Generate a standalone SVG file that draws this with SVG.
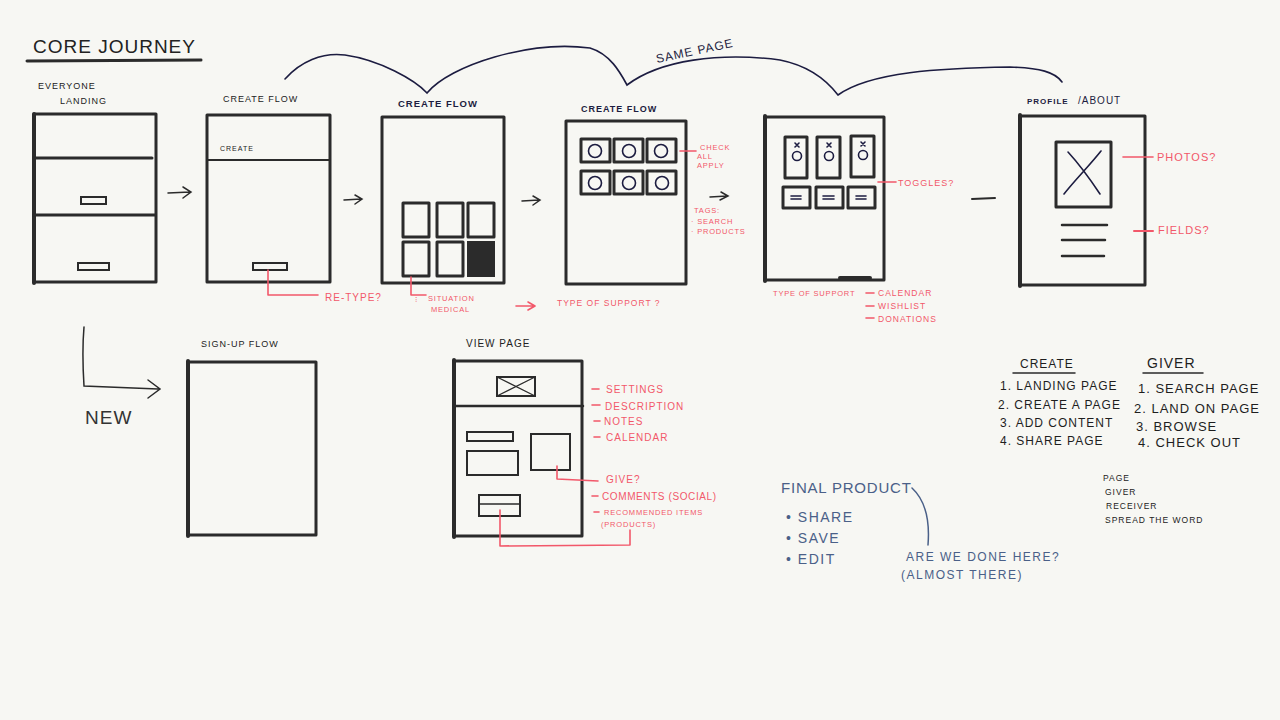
<svg xmlns="http://www.w3.org/2000/svg" width="1280" height="720" viewBox="0 0 1280 720">
<style>
.bg{fill:#f7f7f3}
.fr{fill:none;stroke:#2b2b2b;stroke-width:3;stroke-linejoin:round}
.ln{fill:none;stroke:#2b2b2b;stroke-width:2.5;stroke-linecap:round}
.thin{fill:none;stroke:#2b2b2b;stroke-width:1.5;stroke-linecap:round}
.navy{fill:none;stroke:#1c1c40;stroke-width:1.6;stroke-linecap:round}
.red{fill:none;stroke:#f2586a;stroke-width:1.6;stroke-linecap:round;stroke-linejoin:round}
.blue{fill:none;stroke:#4a6088;stroke-width:1.5;stroke-linecap:round}
text{font-family:"Liberation Sans","DejaVu Sans",sans-serif}
.t{fill:#222;font-size:10px;letter-spacing:1px}
.tn{fill:#1c1c40;font-size:10px;letter-spacing:1px}
.tr{fill:#f2586a;font-size:10px;letter-spacing:1px}
.trs{fill:#f2586a;font-size:7.5px;letter-spacing:0.8px}
.tl{fill:#1e1e1e;font-size:12px;letter-spacing:1px}
.tb{fill:#4a6088;font-size:14px;letter-spacing:1.5px}
</style>
<rect class="bg" x="0" y="0" width="1280" height="720"/>

<g id="title">
<text x="33" y="53" style="font-size:19px;letter-spacing:1px;fill:#222">CORE JOURNEY</text>
<path d="M27 61 L201 60" class="ln" style="stroke-width:3"/>
</g>

<g id="connectors">
<path class="thin" d="M168 193 L190 192 M183 187 L191 192 L183 198"/>
<path class="thin" d="M344 200 L361 199 M355 195 L362 199 L355 204"/>
<path class="thin" d="M522 201 L539 200 M533 196 L540 200 L533 205"/>
<path class="thin" d="M710 197 L727 196 M721 192 L728 196 L720 200"/>
<path class="ln" d="M972 199 L995 198" style="stroke-width:2"/>
<path class="navy" d="M285 79 C300 62 322 52 345 55 C380 60 415 80 427 93 C450 65 530 40 590 48 C610 54 620 72 627 85 C660 60 720 52 780 60 C810 66 828 82 838 95 C870 72 940 68 1010 67 C1040 68 1055 72 1062 82"/>
<text class="tn" x="657" y="63" transform="rotate(-12 657 63)" style="font-size:12px">SAME PAGE</text>
<path class="thin" d="M84 327 C82 350 83 370 84 386 L158 389 M148 380 L160 389 L148 398"/>
<path class="red" d="M516 306 L534 306 M528 302 L535 306 L528 310"/>
</g>

<g id="landing">
<text class="t" x="38" y="89" style="font-size:9px">EVERYONE</text>
<text class="t" x="60" y="104" style="font-size:9px">LANDING</text>
<rect class="fr" x="34" y="114" width="122" height="168"/>
<path class="ln" d="M34 114 L34 283" style="stroke-width:4"/>
<path class="ln" d="M34 158 L152 158" style="stroke-width:3"/>
<path class="ln" d="M34 215 L155 215" style="stroke-width:3"/>
<rect class="thin" x="81" y="197" width="25" height="7" style="stroke-width:2"/>
<rect class="thin" x="78" y="263" width="31" height="7" style="stroke-width:2"/>
</g>

<g id="create1">
<text class="t" x="223" y="102" style="font-size:9px">CREATE FLOW</text>
<rect class="fr" x="207" y="115" width="123" height="167"/>
<path class="ln" d="M207 160 L330 160" style="stroke-width:2"/>
<text class="t" x="220" y="151" style="font-size:7px">CREATE</text>
<rect class="thin" x="253" y="263" width="34" height="7" style="stroke-width:2"/>
<path class="red" d="M268 270 L268 295 L318 295"/>
<text class="tr" x="325" y="301">RE-TYPE?</text>
</g>

<g id="create2">
<text class="tn" x="398" y="107" style="font-size:9.5px;font-weight:bold">CREATE FLOW</text>
<rect class="fr" x="382" y="117" width="122" height="166"/>
<rect class="fr" x="403" y="203" width="26" height="34"/>
<rect class="fr" x="437" y="203" width="26" height="34"/>
<rect class="fr" x="468" y="203" width="26" height="34"/>
<rect class="fr" x="403" y="242" width="26" height="34"/>
<rect class="fr" x="437" y="242" width="26" height="34"/>
<rect x="468" y="242" width="26" height="34" style="fill:#2b2b2b;stroke:#2b2b2b;stroke-width:2"/>
<path class="red" d="M411 277 L411 295 L426 295"/>
<text class="trs" x="415" y="302">⁝</text>
<text class="trs" x="428" y="301">SITUATION</text>
<text class="trs" x="431" y="312">MEDICAL</text>
<text class="tr" x="557" y="306" style="font-size:8.5px">TYPE OF SUPPORT ?</text>
</g>

<g id="create3">
<text class="tn" x="581" y="112" style="font-size:9px;font-weight:bold">CREATE FLOW</text>
<rect class="fr" x="566" y="121" width="120" height="163"/>
<g class="fr">
<rect x="581" y="139" width="29" height="23"/><rect x="614" y="139" width="29" height="23"/><rect x="647" y="139" width="29" height="23"/>
<rect x="581" y="171" width="29" height="23"/><rect x="614" y="171" width="29" height="23"/><rect x="647" y="171" width="29" height="23"/>
</g>
<g class="navy">
<circle cx="595" cy="151" r="6.5"/><circle cx="629" cy="151" r="6.5"/><circle cx="661" cy="151" r="6.5"/>
<circle cx="595" cy="183" r="6.5"/><circle cx="629" cy="183" r="6.5"/><circle cx="662" cy="183" r="6.5"/>
</g>
<path class="red" d="M680 151 L696 151"/>
<text class="trs" x="700" y="150">CHECK</text>
<text class="trs" x="697" y="159">ALL</text>
<text class="trs" x="697" y="168">APPLY</text>
<text class="trs" x="694" y="213">TAGS:</text>
<text class="trs" x="691" y="224">· SEARCH</text>
<text class="trs" x="691" y="234">· PRODUCTS</text>
</g>

<g id="create4">
<rect class="fr" x="765" y="117" width="119" height="163"/>
<path class="ln" d="M765 116 L765 281" style="stroke-width:4"/>
<path class="ln" d="M840 278 L870 278" style="stroke-width:4"/>
<g class="fr">
<rect x="785" y="137" width="22" height="41"/><rect x="817" y="137" width="23" height="41"/><rect x="851" y="136" width="23" height="41"/>
<rect x="783" y="187" width="27" height="21"/><rect x="816" y="187" width="27" height="21"/><rect x="848" y="187" width="27" height="21"/>
</g>
<g class="navy">
<circle cx="797" cy="156" r="4.5"/><circle cx="829" cy="156" r="4.5"/><circle cx="863" cy="155" r="4.5"/>
<path d="M795 143 L799 147 M799 143 L795 147 M827 143 L831 147 M831 143 L827 147 M861 142 L865 146 M865 142 L861 146"/>
<path d="M791 196 L801 196 M791 199 L801 199 M823 196 L834 196 M823 199 L834 199 M856 196 L866 196 M856 199 L866 199"/>
</g>
<path class="red" d="M878 182 L896 182"/>
<text class="tr" x="898" y="186" style="font-size:9px">TOGGLES?</text>
<text class="tr" x="773" y="296" style="font-size:7.5px;letter-spacing:0.8px">TYPE OF SUPPORT</text>
<path class="red" d="M866 293 L874 293 M866 306 L874 306 M866 318 L874 318"/>
<text class="tr" x="878" y="296" style="font-size:8.5px">CALENDAR</text>
<text class="tr" x="878" y="309" style="font-size:8.5px">WISHLIST</text>
<text class="tr" x="878" y="322" style="font-size:8.5px">DONATIONS</text>
</g>

<g id="profile">
<text class="tn" x="1027" y="104" style="font-size:8px;font-weight:bold">PROFILE</text>
<text class="tn" x="1078" y="104" style="font-size:10px">/ABOUT</text>
<rect class="fr" x="1020" y="116" width="125" height="169"/>
<path class="ln" d="M1020 115 L1020 286" style="stroke-width:4"/>
<rect class="fr" x="1056" y="142" width="55" height="65"/>
<path class="navy" d="M1064 194 C1075 180 1090 165 1101 151 M1068 152 C1080 165 1092 182 1100 194"/>
<path class="ln" d="M1062 225 L1107 225 M1062 240 L1105 240 M1062 256 L1104 256"/>
<path class="red" d="M1123 157 L1153 157"/>
<text class="tr" x="1157" y="161" style="font-size:11px">PHOTOS?</text>
<path class="red" d="M1134 231 L1153 231" style="stroke-width:2"/>
<text class="tr" x="1158" y="234" style="font-size:11px">FIELDS?</text>
</g>

<g id="new">
<text x="85" y="424" style="font-size:19px;fill:#333;letter-spacing:1px">NEW</text>
</g>

<g id="signup">
<text class="t" x="201" y="347" style="font-size:9px">SIGN-UP FLOW</text>
<rect class="fr" x="188" y="362" width="128" height="173"/>
<path class="ln" d="M188 361 L188 536" style="stroke-width:4"/>
</g>

<g id="viewpage">
<text class="t" x="466" y="347" style="font-size:10px">VIEW PAGE</text>
<rect class="fr" x="454" y="361" width="128" height="175"/>
<path class="ln" d="M454 360 L454 537" style="stroke-width:4"/>
<path class="ln" d="M454 406 L583 406"/>
<rect class="thin" x="497" y="377" width="38" height="19" style="stroke-width:2"/>
<path class="thin" d="M497 377 L535 396 M535 377 L497 396" style="stroke-width:1.2"/>
<rect class="thin" x="467" y="432" width="46" height="9" style="stroke-width:2"/>
<rect class="thin" x="467" y="451" width="51" height="24" style="stroke-width:2"/>
<rect class="thin" x="531" y="434" width="39" height="36" style="stroke-width:2"/>
<rect class="thin" x="479" y="495" width="41" height="21" style="stroke-width:2"/>
<path class="thin" d="M479 504 L520 504"/>
<path class="red" d="M557 466 L557 479 L598 481"/>
<path class="red" d="M500 510 L500 546 L630 545 L630 530"/>
<path class="red" d="M592 389 L599 389 M592 405 L600 405 M594 421 L600 421 M594 437 L600 437 M592 496 L598 496 M594 512 L599 512"/>
<text class="tr" x="606" y="393">SETTINGS</text>
<text class="tr" x="605" y="410">DESCRIPTION</text>
<text class="tr" x="604" y="425">NOTES</text>
<text class="tr" x="606" y="441">CALENDAR</text>
<text class="tr" x="606" y="483">GIVE?</text>
<text class="tr" x="602" y="500" style="letter-spacing:0.6px">COMMENTS (SOCIAL)</text>
<text class="trs" x="604" y="515">RECOMMENDED ITEMS</text>
<text class="trs" x="601" y="527">(PRODUCTS)</text>
</g>

<g id="lists">
<text class="tl" x="1020" y="368">CREATE</text>
<path class="thin" d="M1013 373 L1075 373"/>
<text class="tl" x="1000" y="390">1. LANDING PAGE</text>
<text class="tl" x="998" y="409">2. CREATE A PAGE</text>
<text class="tl" x="1000" y="427">3. ADD CONTENT</text>
<text class="tl" x="1000" y="445">4. SHARE PAGE</text>
<text class="tl" x="1147" y="368" style="font-size:14px">GIVER</text>
<path class="thin" d="M1143 373 L1203 373"/>
<text class="tl" x="1138" y="393" style="font-size:13px">1. SEARCH PAGE</text>
<text class="tl" x="1134" y="413" style="font-size:13px">2. LAND ON PAGE</text>
<text class="tl" x="1136" y="431" style="font-size:13px">3. BROWSE</text>
<text class="tl" x="1138" y="447" style="font-size:13px">4. CHECK OUT</text>
<text class="t" x="1103" y="481" style="font-size:8.5px">PAGE</text>
<text class="t" x="1105" y="495" style="font-size:8.5px">GIVER</text>
<text class="t" x="1106" y="509" style="font-size:8.5px">RECEIVER</text>
<text class="t" x="1105" y="523" style="font-size:8.5px">SPREAD THE WORD</text>
</g>

<g id="final">
<text class="tb" x="781" y="493" style="font-size:15px;letter-spacing:0.8px">FINAL PRODUCT</text>
<text class="tb" x="786" y="522">• SHARE</text>
<text class="tb" x="786" y="543">• SAVE</text>
<text class="tb" x="786" y="564">• EDIT</text>
<path class="blue" d="M912 488 C925 500 930 520 928 545"/>
<text class="tb" x="906" y="561" style="font-size:12px">ARE WE DONE HERE?</text>
<text class="tb" x="901" y="579" style="font-size:12px">(ALMOST THERE)</text>
</g>
</svg>
